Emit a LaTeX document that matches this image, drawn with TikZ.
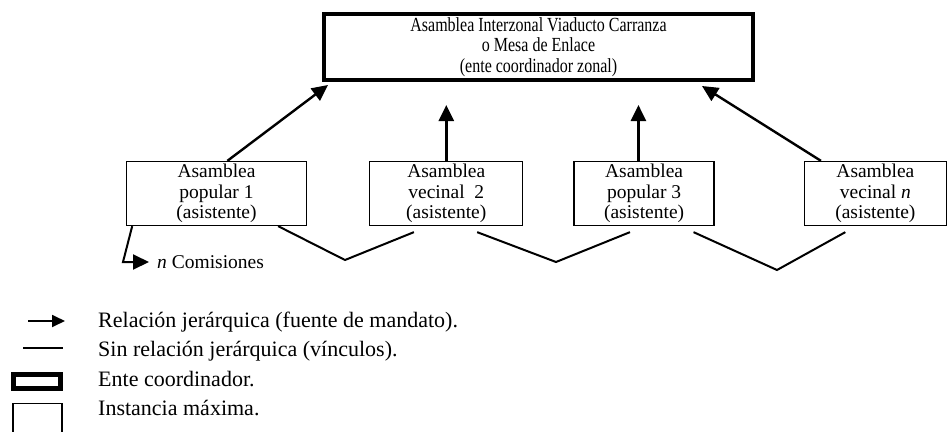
\documentclass[tikz,border=0pt]{standalone}
\usepackage{fontspec}
\setmainfont{Liberation Serif}
\newfontfamily\mesafont{Liberation Serif}[FakeStretch=0.8]
\usetikzlibrary{arrows.meta, positioning, calc}

\tikzset{
  coordbox/.style={rectangle, draw, line width=4pt, minimum width=429pt, minimum height=66pt,
    align=center, font=\mesafont\fontsize{20}{20.5}\selectfont},
  asamblea/.style={rectangle, draw, line width=1.3pt, minimum height=64pt, inner sep=0pt,
    align=center, font=\fontsize{19.5}{20.5}\selectfont},
  mandato/.style={-{Triangle[length=16pt, width=15pt]}, line width=2.4pt},
  vinculo/.style={line width=2pt},
  leyenda/.style={anchor=base west, inner sep=0pt, font=\fontsize{22}{24}\selectfont}
}

\begin{document}
\begin{tikzpicture}[x=1pt, y=-1pt]
  \useasboundingbox (0,0) rectangle (947,431);

  % Coordinating body
  \node[coordbox] (mesa) at (538.5,47) {Asamblea Interzonal Viaducto Carranza\\o Mesa de Enlace\\(ente coordinador zonal)};

  % Assemblies
  \node[asamblea, minimum width=180pt] (pop1) at (216.5,193.5) {Asamblea\\popular 1\\(asistente)};
  \node[asamblea, minimum width=153pt, right=62pt of pop1] (vec2) {Asamblea\\vecinal\ \ 2\\(asistente)};
  \node[asamblea, minimum width=140pt, right=50pt of vec2] (pop3) {Asamblea\\popular 3\\(asistente)};
  \node[asamblea, minimum width=142pt, right=89pt of pop3] (vecn) {Asamblea\\vecinal \textit{n}\\(asistente)};

  % Mandate arrows
  \coordinate (m1) at (328,85);
  \coordinate (m4) at (702,86);
  \coordinate (lvl) at (0,105);
  \draw[mandato] ($(pop1.north west)!.56!(pop1.north east)$) -- (m1);
  \draw[mandato] (vec2.north) -- (vec2.north |- lvl);
  \draw[mandato] ($(pop3.north west)!.46!(pop3.north east)$) coordinate (p3) -- (p3 |- lvl);
  \draw[mandato] ($(vecn.north west)!.12!(vecn.north east)$) -- (m4);

  % Links
  \coordinate (v1) at (345,260);
  \coordinate (v2) at (556,262);
  \coordinate (v3) at (777,270);
  \draw[vinculo] ($(pop1.south west)!.84!(pop1.south east)$) -- (v1) -- ($(vec2.south west)!.29!(vec2.south east)+(0,6)$);
  \draw[vinculo] ($(vec2.south west)!.70!(vec2.south east)+(0,6)$) -- (v2) -- ($(pop3.south west)!.40!(pop3.south east)+(0,6)$);
  \draw[vinculo] ($(pop3.south west)!.85!(pop3.south east)+(0,6)$) -- (v3) -- ($(vecn.south west)!.29!(vecn.south east)+(0,6)$);

  % Commissions
  \coordinate (c0) at (123,262);
  \node[right=34pt of c0, inner sep=0pt, font=\fontsize{19.5}{20}\selectfont] (com) {\textit{n} Comisiones};
  \draw[mandato, line width=2pt] ($(pop1.south west)!.035!(pop1.south east)$) -- (c0) -- ([xshift=-8pt]com.west);

  % Legend
  \node[leyenda] (l1) at (98,327) {Relación jerárquica (fuente de mandato).};
  \node[leyenda] (l2) at (98,356) {Sin relación jerárquica (vínculos).};
  \node[leyenda] (l3) at (98,386) {Ente coordinador.};
  \node[leyenda] (l4) at (98,415) {Instancia máxima.};
  \draw[mandato, -{Triangle[length=13pt, width=12pt]}, line width=1.8pt] ([xshift=-70pt, yshift=6pt]l1.base west) -- ([xshift=-33pt, yshift=6pt]l1.base west);
  \draw[line width=1.5pt] ([xshift=-75pt, yshift=8pt]l2.base west) -- ([xshift=-35pt, yshift=8pt]l2.base west);
  \node[draw, line width=5pt, minimum width=47pt, minimum height=14pt, inner sep=0pt, anchor=east] (k3) at ([xshift=-35.5pt, yshift=5pt]l3.base west) {};
  \node[draw, line width=1.3pt, minimum width=49pt, minimum height=40pt, inner sep=0pt, anchor=north east] (k4) at ([xshift=-35.5pt, yshift=12.5pt]l4.base west) {};
\end{tikzpicture}
\end{document}
